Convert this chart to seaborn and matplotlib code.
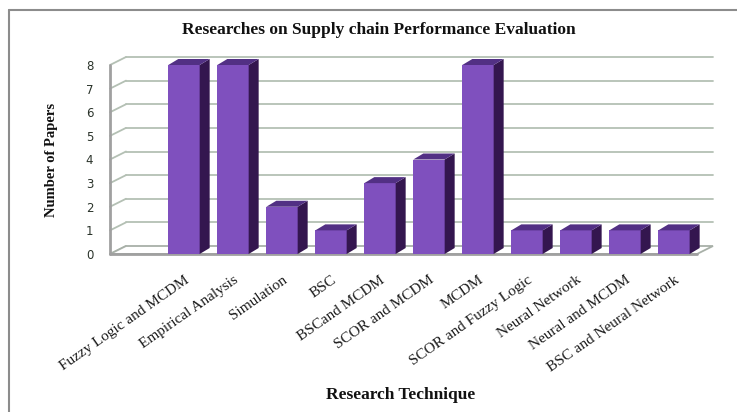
import matplotlib
matplotlib.use("Agg")
import matplotlib.pyplot as plt
import seaborn as sns
from matplotlib.patches import Polygon
from matplotlib.transforms import IdentityTransform

# Data
techniques = [
    "Fuzzy Logic and MCDM",
    "Empirical Analysis",
    "Simulation",
    "BSC",
    "BSCand MCDM",
    "SCOR and MCDM",
    "MCDM",
    "SCOR and Fuzzy Logic",
    "Neural Network",
    "Neural and MCDM",
    "BSC and Neural Network",
]
papers = [8, 8, 2, 1, 3, 4, 8, 1, 1, 1, 1]
y_ticks = list(range(0, 9))

front_col = "#7f50be"
side_col = "#34164f"
top_col = "#523084"
grid_col = "#b4c0b4"

sns.set_theme(style="white")
plt.rcParams["font.family"] = ["Liberation Serif", "DejaVu Serif"]

W, H = 737, 412
fig = plt.figure(figsize=(W / 100, H / 100), dpi=100)
ax = fig.add_axes([110 / W, (H - 254) / H, 587 / W, (254 - 65) / H])

sns.barplot(x=techniques, y=papers, color=front_col, saturation=1,
            width=0.64, ax=ax, edgecolor="none", zorder=3)
ax.set_xlim(-1.51, 10.47)
ax.set_ylim(0, 8)
for s in ax.spines.values():
    s.set_visible(False)
ax.patch.set_alpha(0)

fig.canvas.draw()
ident = IdentityTransform()
wx, wy = 16, 8  # wall depth in pixels
bx, by = 10, 6  # bar depth in pixels
xmin, xmax = ax.get_xlim()
bars = list(ax.patches)


def line(xs, ys, **kw):
    ax.add_line(plt.Line2D(xs, ys, transform=ident, clip_on=False, **kw))


# back wall gridlines + left wall slants
for v in y_ticks:
    x0, y0 = ax.transData.transform((xmin, v))
    x1, _ = ax.transData.transform((xmax, v))
    if v > 0:
        line([x0 + wx, x1 + wx], [y0 + wy, y0 + wy], color=grid_col, lw=1.3, zorder=1)
    line([x0, x0 + wx], [y0, y0 + wy], color=grid_col, lw=1.3, zorder=1)

# floor
fx0, fy0 = ax.transData.transform((xmin, 0))
fx1, _ = ax.transData.transform((xmax, 0))
ax.add_patch(Polygon([(fx0, fy0), (fx1, fy0), (fx1 + wx, fy0 + wy), (fx0 + wx, fy0 + wy)],
                     closed=True, transform=ident, facecolor="white", clip_on=False,
                     edgecolor="#a8b0a8", lw=1.3, zorder=2))
line([fx0, fx1], [fy0, fy0], color="#a0a0a0", lw=2, zorder=2)
# left wall edge
_, ty = ax.transData.transform((xmin, 8))
line([fx0, fx0], [fy0, ty], color="#a0a0a0", lw=2, zorder=2)

# 3D faces of bars
for p in bars:
    p.set_clip_on(False)
    ext = p.get_window_extent()
    l, r, b, t = ext.x0, ext.x1, ext.y0, ext.y1
    ax.add_patch(Polygon([(r, b), (r + bx, b + by), (r + bx, t + by), (r, t)],
                         closed=True, transform=ident, facecolor=side_col,
                         edgecolor="none", zorder=3, clip_on=False))
    ax.add_patch(Polygon([(l, t), (r, t), (r + bx, t + by), (l + bx, t + by)],
                         closed=True, transform=ident, facecolor=top_col,
                         edgecolor="none", zorder=3, clip_on=False))

ax.set_yticks(y_ticks)
ax.set_yticklabels([str(v) for v in y_ticks], family="DejaVu Sans",
                   fontsize=8.5, color="#2a332a")
ax.tick_params(axis="y", length=0, pad=12)
ax.tick_params(axis="x", length=0, pad=14)
ax.set_xticks(range(len(techniques)))
ax.set_xticklabels(techniques, rotation=35, ha="right", rotation_mode="anchor",
                   fontsize=11, color="#1a1a1a")
ax.set_xlabel("")
ax.set_ylabel("")

fig.text(379 / W, 1 - 30 / H, "Researches on Supply chain Performance Evaluation",
         ha="center", va="center", fontsize=12.5, fontweight="bold", color="#111111")
fig.text(52 / W, 1 - 160 / H, "Number of Papers", rotation=90,
         ha="center", va="center", fontsize=10.5, fontweight="bold", color="#111111")
fig.text(401 / W, 1 - 395 / H, "Research Technique",
         ha="center", va="center", fontsize=12.5, fontweight="bold", color="#111111")

# outer frame
fig.add_artist(plt.Line2D([9, W], [H - 10, H - 10], transform=ident,
                          color="#8c8c8c", lw=1.5))
fig.add_artist(plt.Line2D([9, 9], [H - 10, 0], transform=ident,
                          color="#8c8c8c", lw=1.5))

fig.savefig("out.png", dpi=100)
